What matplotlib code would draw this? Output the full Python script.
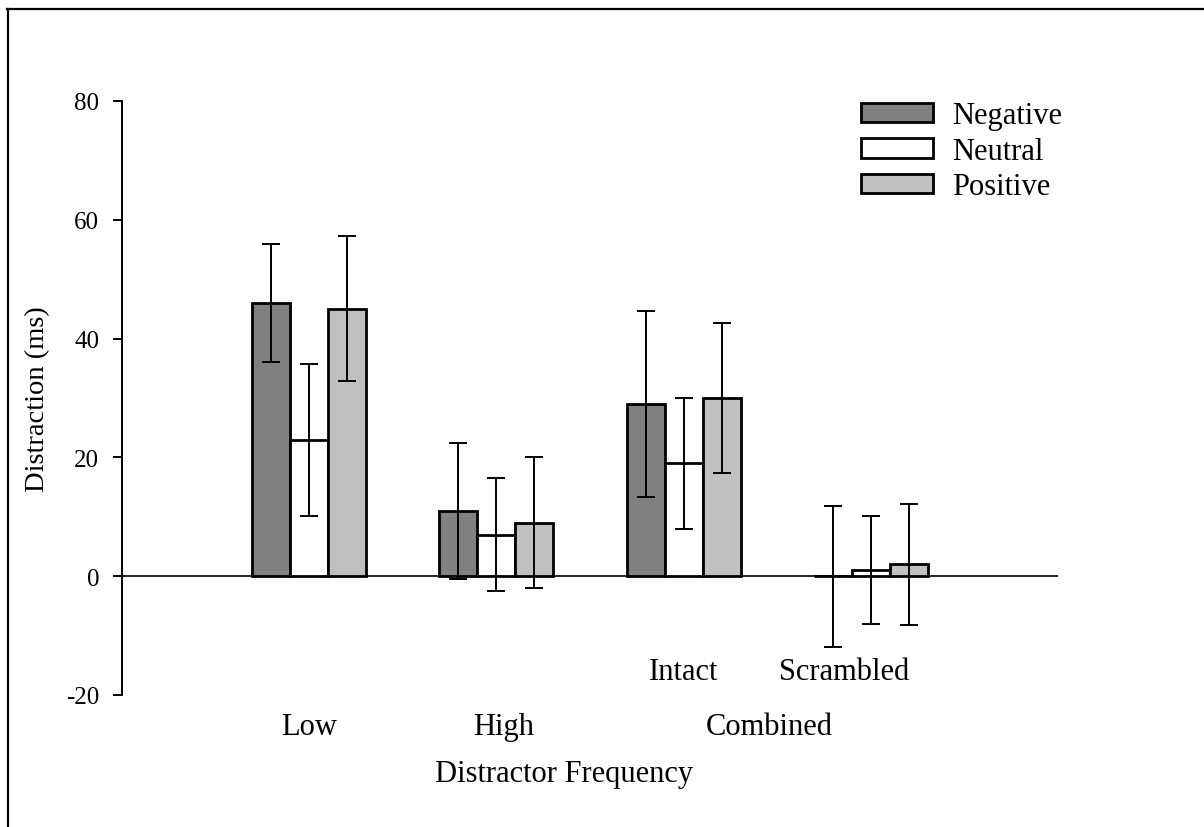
import matplotlib
matplotlib.use('Agg')
import matplotlib.pyplot as plt
from matplotlib.lines import Line2D
import numpy as np

plt.rcParams['font.family'] = ['Liberation Serif', 'DejaVu Serif']

groups = ['Low', 'High', 'Intact', 'Scrambled']
series = ['Negative', 'Neutral', 'Positive']
negative = [46, 11, 29, 0]
neutral = [23, 7, 19, 1]
positive = [45, 9, 30, 2]
negative_err = [9.9, 11.4, 15.6, 11.9]
neutral_err = [12.8, 9.5, 11.0, 9.1]
positive_err = [12.2, 11.0, 12.65, 10.2]
yticks = [-20, 0, 20, 40, 60, 80]

colors = ['#808080', '#ffffff', '#c0c0c0']
values = [negative, neutral, positive]
errors = [negative_err, neutral_err, positive_err]

fig = plt.figure(figsize=(12.04, 8.28), dpi=100)
W, H = 1204.0, 828.0
ax = fig.add_axes([122 / W, 1 - 696 / H, (1058 - 122) / W, (696 - 102) / H])

x = np.arange(len(groups))
width = 0.203
ax.axhline(0, color='black', lw=1.2, zorder=1)
handles = []
for i, (vals, errs, c) in enumerate(zip(values, errors, colors)):
    pos = x + (i - 1) * width
    b = ax.bar(pos, vals, width, color=c, edgecolor='black', linewidth=2.0,
               zorder=2, label=series[i])
    ax.errorbar(pos, vals, yerr=errs, fmt='none', ecolor='black',
                elinewidth=1.4, capsize=6.8, capthick=1.4, zorder=3)
    handles.append(b)

ax.set_xlim(-1, 4)
ax.set_ylim(-20, 80)
ax.set_yticks(yticks)
ax.set_yticklabels([str(t) for t in yticks], fontsize=18)
ax.tick_params(axis='y', direction='out', length=6.5, width=1.4, pad=10)
ax.set_xticks([])
for s in ['top', 'right', 'bottom']:
    ax.spines[s].set_visible(False)
ax.spines['left'].set_linewidth(1.4)

# category labels under the axis
fs = 22
ax.text(0, -26.6, 'Low', ha='center', va='baseline', fontsize=fs, clip_on=False)
ax.text(1.04, -26.6, 'High', ha='center', va='baseline', fontsize=fs, clip_on=False)
ax.text(2.46, -26.6, 'Combined', ha='center', va='baseline', fontsize=fs, clip_on=False)
ax.text(2.0, -17.3, 'Intact', ha='center', va='baseline', fontsize=fs, clip_on=False)
ax.text(2.86, -17.3, 'Scrambled', ha='center', va='baseline', fontsize=fs, clip_on=False)
ax.text(1.36, -34.5, 'Distractor Frequency', ha='center', va='baseline',
        fontsize=fs, clip_on=False)

fig.text(38 / W, 1 - 399 / H, 'Distraction (ms)', rotation=90, ha='center',
         va='center', fontsize=20.5)

ax.legend(handles=handles, loc='upper left', bbox_to_anchor=(861 / W, 1 - 102 / H),
          bbox_transform=fig.transFigure, frameon=False, fontsize=fs,
          handlelength=2.35, handleheight=0.59, handletextpad=0.62,
          labelspacing=0.22, borderpad=0, borderaxespad=0)

# partial frame around the figure (top and left edges)
fig.add_artist(Line2D([7 / W, 1], [1 - 10 / H, 1 - 10 / H], color='black', lw=1.6,
                      transform=fig.transFigure))
fig.add_artist(Line2D([8 / W, 8 / W], [0, 1 - 10 / H], color='black', lw=1.6,
                      transform=fig.transFigure))

fig.savefig('out.png', dpi=100)
